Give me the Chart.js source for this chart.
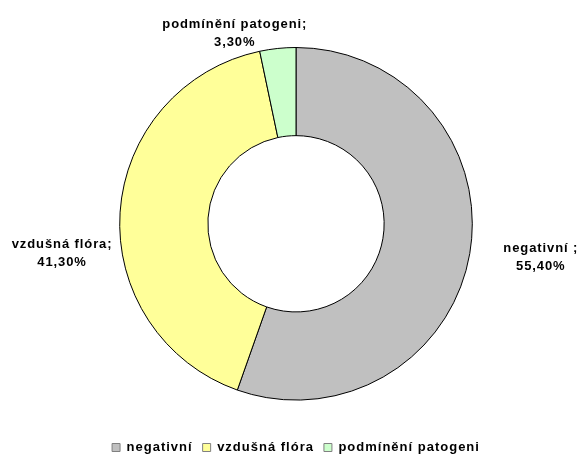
<!DOCTYPE html>
<html>
<head>
    <title>Doughnut</title>
    <script src="https://cdn.jsdelivr.net/npm/chart.js"></script>
    <style>
        html, body { margin: 0; padding: 0; background: #fff; }
        #wrap { width: 580px; height: 459px; position: relative; }
    </style>
    <script>
        const categories = ['negativní', 'vzdušná flóra', 'podmínění patogeni'];
        const values = [55.4, 41.3, 3.3];
        const labelNames = ['negativní ;', 'vzdušná flóra;', 'podmínění patogeni;'];
        const colors = ['#C0C0C0', '#FFFF99', '#CCFFCC'];

        function formatPct(v) {
            return v.toFixed(2).replace('.', ',') + '%';
        }

        // the old chart's text is a bit spaced out, legend included
        const spacing = {
            id: 'spacing',
            beforeLayout(chart, args, opts) { chart.ctx.letterSpacing = opts.legend; },
            beforeDraw(chart, args, opts) { chart.ctx.letterSpacing = opts.legend; }
        };

        // draws the two-line labels outside the ring
        const outsideLabels = {
            id: 'outsideLabels',
            afterDatasetsDraw(chart, args, opts) {
                const ctx = chart.ctx;
                const meta = chart.getDatasetMeta(0);
                ctx.save();
                ctx.font = opts.font;
                ctx.letterSpacing = opts.letterSpacing;
                ctx.fillStyle = '#000';
                ctx.textAlign = 'center';
                ctx.textBaseline = 'middle';
                meta.data.forEach((arc, i) => {
                    const mid = (arc.startAngle + arc.endAngle) / 2;
                    const x = arc.x + Math.cos(mid) * arc.outerRadius + opts.shift[i][0];
                    const y = arc.y + Math.sin(mid) * arc.outerRadius + opts.shift[i][1];
                    ctx.fillText(labelNames[i], x, y - opts.lineHeight / 2);
                    ctx.fillText(formatPct(values[i]), x, y + opts.lineHeight / 2);
                });
                ctx.restore();
            }
        };

        document.addEventListener('DOMContentLoaded', function() {
            const ctx = document.getElementById('chart').getContext('2d');
            new Chart(ctx, {
                type: 'doughnut',
                data: {
                    labels: categories,
                    datasets: [{
                        data: values,
                        backgroundColor: colors,
                        borderColor: '#000',
                        borderWidth: 1
                    }]
                },
                options: {
                    responsive: false,
                    animation: false,
                    cutout: '50%',
                    layout: { padding: { top: 47, left: 12, right: 0, bottom: -5 } },
                    plugins: {
                        tooltip: { enabled: false },
                        legend: {
                            position: 'bottom',
                            title: {
                                display: true,
                                text: '',
                                font: { size: 12 },
                                padding: { top: 16, bottom: 0 }
                            },
                            labels: {
                                boxWidth: 8,
                                boxHeight: 8,
                                padding: 10,
                                color: '#000',
                                font: { family: 'Liberation Sans', size: 13, weight: 'bold' },
                                generateLabels(chart) {
                                    return categories.map((c, i) => ({
                                        text: c,
                                        fillStyle: colors[i],
                                        strokeStyle: '#808080',
                                        fontColor: '#000',
                                        lineWidth: 1,
                                        hidden: false,
                                        index: i
                                    }));
                                }
                            }
                        },
                        spacing: { legend: '1px' },
                        outsideLabels: {
                            font: 'bold 13px "Liberation Sans"',
                            letterSpacing: '0.9px',
                            lineHeight: 18,
                            shift: [[71, 4], [-58, 41], [-43, -15]]
                        }
                    }
                },
                plugins: [spacing, outsideLabels]
            });
        });
    </script>
</head>
<body>
<div id="wrap"><canvas id="chart" width="580" height="459"></canvas></div>
</body>
</html>
